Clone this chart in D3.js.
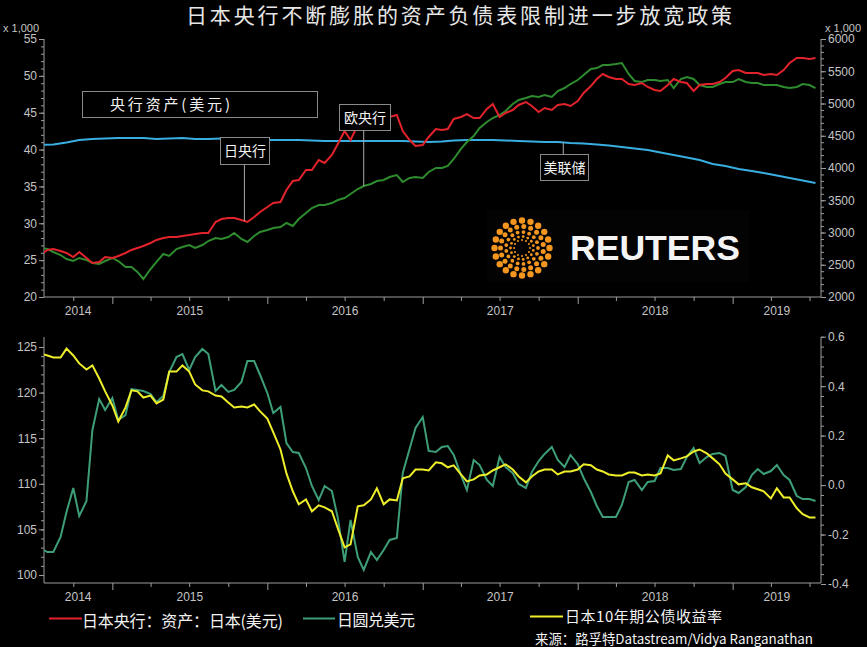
<!DOCTYPE html>
<html><head><meta charset="utf-8">
<script src="https://cdn.jsdelivr.net/npm/d3@7"></script>
<style>body{margin:0;background:#000;}svg{display:block}</style>
</head><body><svg id="c" width="867" height="647"></svg>
<script>
// ---------------- DATA ----------------
// Semi-monthly observations (15th and 1st of each month) from 2014-07-15 to 2019-07-15
const bojAssets = [2651,2729,2744,2713,2682,2620,2698,2605,2527,2543,
2620,2605,2636,2682,2729,2760,2791,2837,2884,2915,
2930,2930,2946,2961,2977,2992,2992,3163,3209,3225,
3225,3194,3163,3240,3318,3395,3457,3473,3659,3798,
3814,3969,3969,4124,4078,4202,4372,4574,4434,4667,
4822,4837,4806,4822,4791,4822,4574,4434,4341,4357,
4481,4605,4589,4605,4760,4791,4837,4775,4775,4915,
4992,4791,4853,4899,4977,5023,4961,4868,4930,4899,
4977,4992,4961,5039,5163,5271,5380,5457,5411,5380,
5380,5302,5287,5318,5256,5209,5194,5287,5380,5333,
5318,5194,5287,5302,5302,5333,5395,5504,5519,5473,
5473,5473,5442,5457,5442,5519,5628,5705,5705,5690,
5705];
const ecbAssets = [2760,2744,2698,2651,2589,2558,2605,2574,2527,2512,
2558,2605,2558,2465,2465,2388,2279,2434,2543,2667,
2636,2744,2775,2806,2760,2806,2868,2915,2899,2930,
2992,2899,2853,2946,3008,3039,3070,3085,3147,3101,
3209,3302,3380,3426,3426,3457,3504,3535,3597,3674,
3721,3752,3798,3814,3860,3891,3783,3845,3860,3845,
3938,4000,4000,4031,4140,4295,4403,4496,4620,4713,
4775,4822,4884,4992,5054,5085,5116,5101,5132,5101,
5194,5240,5302,5364,5442,5535,5550,5597,5597,5612,
5628,5457,5349,5333,5364,5364,5349,5364,5240,5380,
5411,5380,5287,5256,5256,5302,5333,5333,5380,5333,
5318,5318,5287,5287,5287,5256,5240,5256,5302,5287,
5240];
// Monthly observations (15th of each month) from 2014-07-15 to 2019-07-15
const fedAssets = [4357,4364,4395,4434,4450,4457,4465,4465,4465,4450,
4457,4465,4450,4450,4457,4465,4450,4434,4434,4434,
4434,4426,4419,4419,4419,4419,4419,4419,4419,4411,
4403,4411,4426,4434,4434,4434,4426,4419,4411,4403,
4403,4388,4380,4364,4349,4326,4302,4279,4240,4202,
4163,4124,4062,4031,3985,3953,3922,3884,3845,3806,
3767];
// Semi-monthly, same dates as the balance sheets
const usdJpy = [102.96,102.52,102.52,104.17,106.91,109.54,106.47,108.11,115.90,119.30,
118.09,119.41,117.00,117.54,120.39,120.29,120.18,119.85,118.97,119.63,
122.26,123.90,124.23,122.48,123.90,124.78,124.23,120.18,120.83,120.07,
120.29,121.16,123.46,123.46,121.93,119.96,117.76,118.42,114.47,113.49,
113.38,111.73,109.76,108.22,109.76,109.21,106.25,101.43,106.03,101.97,
100.55,102.52,101.64,102.74,103.84,104.06,111.18,113.82,116.12,117.32,
113.60,113.49,114.04,114.14,113.16,110.96,109.32,112.61,112.06,110.42,
109.76,112.94,111.84,111.18,109.98,109.54,111.29,112.50,113.27,114.04,
112.61,111.84,113.16,112.17,110.64,109.10,107.57,106.36,106.36,106.36,
107.68,110.20,110.42,109.32,110.20,110.31,111.73,111.73,111.51,111.62,
112.94,113.93,112.28,112.94,113.27,113.38,113.05,109.32,108.99,109.65,
110.96,111.62,111.07,111.40,112.06,110.96,110.42,108.66,108.33,108.33,
108.11];
const jgb10y = [0.532,0.524,0.516,0.516,0.552,0.524,0.492,0.467,0.484,0.431,
0.379,0.322,0.257,0.314,0.383,0.379,0.354,0.362,0.330,0.346,
0.459,0.459,0.484,0.459,0.407,0.383,0.379,0.362,0.358,0.334,
0.314,0.318,0.314,0.326,0.298,0.269,0.213,0.144,0.047,-0.025,
-0.078,-0.058,-0.106,-0.082,-0.090,-0.106,-0.175,-0.252,-0.240,-0.086,
-0.082,-0.058,-0.013,-0.078,-0.058,-0.062,0.027,0.035,0.063,0.063,
0.059,0.092,0.088,0.072,0.080,0.043,0.015,0.023,0.039,0.043,
0.059,0.072,0.084,0.063,0.035,0.011,0.035,0.055,0.063,0.063,
0.043,0.055,0.055,0.063,0.084,0.080,0.063,0.055,0.043,0.039,
0.039,0.051,0.051,0.039,0.043,0.039,0.047,0.120,0.100,0.108,
0.116,0.136,0.144,0.128,0.108,0.084,0.047,0.023,0.003,0.007,
-0.009,-0.017,-0.025,-0.054,-0.013,-0.050,-0.050,-0.094,-0.118,-0.131,
-0.131];

const yearLabels = ["2014","2015","2016","2017","2018","2019"];
const topLeftTicks = [20,25,30,35,40,45,50,55];
const topRightTicks = [2000,2500,3000,3500,4000,4500,5000,5500,6000];
const botLeftTicks = [100,105,110,115,120,125];
const botRightTicks = [-0.4,-0.2,0.0,0.2,0.4,0.6];

const title = "日本央行不断膨胀的资产负债表限制进一步放宽政策";
const panelLabel = "央行资产(美元)";
const annotations = [
  {text:"日央行", series:"boj", date:"2015-11-08", box:[220,137,49,27], above:true},
  {text:"欧央行", series:"ecb", date:"2016-08-15", box:[339,104,51,26], above:true},
  {text:"美联储", series:"fed", date:"2017-11-28", box:[540,154,48,26], above:false}
];
const legendItems = [
  {label:"日本央行：资产：日本(美元)", color:"#e3232c"},
  {label:"日圆兑美元", color:"#3e9e78"},
  {label:"日本10年期公债收益率", color:"#eeee2a"}
];
const sourceText = "来源：路孚特Datastream/Vidya Ranganathan";

// ---------------- DATES ----------------
const semiDates = [];
{ let d = new Date(2014,6,15); const end = new Date(2019,6,15);
  while (d <= end) { semiDates.push(d);
    d = d.getDate() === 15 ? new Date(d.getFullYear(), d.getMonth()+1, 1) : new Date(d.getFullYear(), d.getMonth(), 15); } }
const monthDates = fedAssets.map((v,i) => new Date(2014, 6+i, 15));
const semi = arr => arr.map((v,i) => ({date: semiDates[i], value: v}));
const series = {
  boj: semi(bojAssets), ecb: semi(ecbAssets),
  fed: fedAssets.map((v,i)=>({date: monthDates[i], value: v})),
  jpy: semi(usdJpy), jgb: semi(jgb10y)
};

// ---------------- CHART ----------------
const svg = d3.select("#c");
svg.append("rect").attr("width",867).attr("height",647).attr("fill","#000");
const NUM = "'Liberation Sans', Arial, sans-serif";
const CJK = "'Noto Sans CJK SC', 'Noto Sans', sans-serif";
const AX = "#9c9c9c", TXT = "#c4c4c4";
const X0 = 44, X1 = 821;
const x = d3.scaleTime().domain([new Date(2014,6,24), new Date(2019,6,28)]).range([X0, X1]);

const T0 = 39, T1 = 297;     // top panel
const B0 = 337, B1 = 583;    // bottom panel
const yL = d3.scaleLinear().domain([20,55]).range([T1,T0]);
const yR = d3.scaleLinear().domain([2000,6000]).range([T1,T0]);
const yBL = d3.scaleLinear().domain([100,125]).range([575,347]);
const yBR = d3.scaleLinear().domain([-0.4,0.6]).range([584,336.7]);

const defs = svg.append("defs");
defs.append("clipPath").attr("id","clipT").append("rect").attr("x",X0).attr("y",T0-5).attr("width",X1-X0).attr("height",T1-T0+5);
defs.append("clipPath").attr("id","clipB").append("rect").attr("x",X0).attr("y",B0-5).attr("width",X1-X0).attr("height",B1-B0+5);

function styleAxis(g){
  g.select(".domain").remove();
  g.selectAll("line").attr("stroke",AX);
  g.selectAll("text").attr("fill",TXT).style("font-family",NUM).style("font-size","12px");
}
function vAxis(scale, pos, minor, major, fmt, right){
  const mk = right ? d3.axisRight : d3.axisLeft;
  svg.append("g").attr("transform",`translate(${pos},0)`)
    .call(mk(scale).tickValues(minor).tickSize(3).tickFormat("")).call(styleAxis);
  svg.append("g").attr("transform",`translate(${pos},0)`)
    .call(mk(scale).tickValues(major).tickSize(5).tickPadding(2).tickFormat(fmt)).call(styleAxis);
}
function xAxis(yPos){
  const qs = d3.timeMonth.every(3).range(x.domain()[0], x.domain()[1]);
  const minorQ = qs.filter(d=>d.getMonth()!==0), years = qs.filter(d=>d.getMonth()===0);
  svg.append("g").attr("transform",`translate(0,${yPos})`)
    .call(d3.axisBottom(x).tickValues(minorQ).tickSize(4).tickFormat("")).call(styleAxis);
  svg.append("g").attr("transform",`translate(0,${yPos})`)
    .call(d3.axisBottom(x).tickValues(years).tickSize(7).tickFormat("")).call(styleAxis);
  yearLabels.forEach(yr => {
    const s = Math.max(x(new Date(+yr,0,1)), X0), e = Math.min(x(new Date(+yr+1,0,1)), X1);
    svg.append("text").attr("x",(s+e)/2).attr("y",yPos+18).attr("text-anchor","middle")
      .attr("fill",TXT).style("font-family",NUM).style("font-size","12px").text(yr);
  });
  svg.append("line").attr("x1",X0).attr("x2",X1).attr("y1",yPos).attr("y2",yPos).attr("stroke",AX);
}

// Top panel axes
vAxis(yL, X0, d3.range(20,56,1), topLeftTicks, d=>d, false);
vAxis(yR, X1, d3.range(2000,6001,100), topRightTicks, d=>d, true);
svg.append("line").attr("x1",X0).attr("x2",X0).attr("y1",T0).attr("y2",T1).attr("stroke",AX);
svg.append("line").attr("x1",X1).attr("x2",X1).attr("y1",T0).attr("y2",T1).attr("stroke",AX);
xAxis(T1);
svg.append("text").attr("x",3).attr("y",32).attr("fill",TXT).style("font-family",NUM).style("font-size","11px").text("x 1,000");
svg.append("text").attr("x",825).attr("y",32).attr("fill",TXT).style("font-family",NUM).style("font-size","11px").text("x 1,000");

// Bottom panel axes
vAxis(yBL, X0, d3.range(100,126,1), botLeftTicks, d=>d, false);
vAxis(yBR, X1, d3.range(-0.4,0.601,0.04), botRightTicks, d=>d.toFixed(1), true);
svg.append("line").attr("x1",X0).attr("x2",X0).attr("y1",B0).attr("y2",B1).attr("stroke",AX);
svg.append("line").attr("x1",X1).attr("x2",X1).attr("y1",B0).attr("y2",B1).attr("stroke",AX);
xAxis(B1);

// REUTERS logo (decoration)
const logo = svg.append("g");
logo.append("rect").attr("x",487).attr("y",210).attr("width",262).attr("height",72).attr("fill","#030303");
const lc = [522, 248];
const rings = [{r:27.5,n:20,s:3.2},{r:21.5,n:19,s:2.5},{r:16,n:17,s:1.9},{r:11.5,n:15,s:1.4},{r:8,n:12,s:1.0}];
rings.forEach((rg,k) => {
  for (let i=0;i<rg.n;i++){
    const a = (i + (k%2)*0.5)/rg.n*2*Math.PI;
    logo.append("circle").attr("cx",lc[0]+rg.r*Math.cos(a)).attr("cy",lc[1]+rg.r*Math.sin(a)).attr("r",rg.s).attr("fill","#f3961f");
  }
});
logo.append("text").attr("x",570).attr("y",260).attr("textLength",170).attr("lengthAdjust","spacingAndGlyphs")
  .attr("fill","#f4f4f4").style("font-family",NUM).style("font-size","35px").style("font-weight","bold").text("REUTERS");

// Lines
const lineT = sc => d3.line().x(d=>x(d.date)).y(d=>sc(d.value));
const gT = svg.append("g").attr("clip-path","url(#clipT)");
gT.append("path").datum(series.fed).attr("d",lineT(yR)).attr("fill","none").attr("stroke","#39aee0").attr("stroke-width",2);
gT.append("path").datum(series.ecb).attr("d",lineT(yR)).attr("fill","none").attr("stroke","#2e8b2e").attr("stroke-width",2);
gT.append("path").datum(series.boj).attr("d",lineT(yR)).attr("fill","none").attr("stroke","#e3232c").attr("stroke-width",2);
const gB = svg.append("g").attr("clip-path","url(#clipB)");
gB.append("path").datum(series.jpy).attr("d",lineT(yBL)).attr("fill","none").attr("stroke","#3e9e78").attr("stroke-width",2);
gB.append("path").datum(series.jgb).attr("d",lineT(yBR)).attr("fill","none").attr("stroke","#eeee2a").attr("stroke-width",2);

// Panel label box
svg.append("rect").attr("x",82.5).attr("y",91.5).attr("width",235).attr("height",26).attr("fill","#000").attr("stroke","#8a8a8a");
svg.append("text").attr("x",110).attr("y",110).attr("textLength",120).attr("lengthAdjust","spacing")
  .attr("fill","#f0f0f0").style("font-family",CJK).style("font-size","15px").text(panelLabel);

// Annotations
const parse = d3.timeParse("%Y-%m-%d");
annotations.forEach(a => {
  const s = series[a.series], dt = parse(a.date);
  const i = d3.bisector(d=>d.date).left(s, dt);
  const p0 = s[Math.max(i-1,0)], p1 = s[Math.min(i,s.length-1)];
  const t = p1.date - p0.date ? (dt - p0.date)/(p1.date - p0.date) : 0;
  const v = p0.value + t*(p1.value - p0.value);
  const ax = x(dt), ay = yR(v);
  const [bx,by,bw,bh] = a.box;
  svg.append("line").attr("x1",ax).attr("x2",ax).attr("y1",a.above? by+bh : by).attr("y2",ay).attr("stroke","#aaaaaa").attr("stroke-width",1);
  svg.append("rect").attr("x",bx+0.5).attr("y",by+0.5).attr("width",bw).attr("height",bh).attr("fill","#000").attr("stroke","#8a8a8a");
  svg.append("text").attr("x",bx+bw/2+0.5).attr("y",by+bh/2+5.5).attr("text-anchor","middle")
    .attr("fill","#f4f4f4").style("font-family",CJK).style("font-size","14px").text(a.text);
});

// Title
svg.append("text").attr("x",186).attr("y",23).attr("textLength",546).attr("lengthAdjust","spacing")
  .attr("fill","#e6e6e6").style("font-family",CJK).style("font-size","21px").text(title);

// Legend
const leg = [
  {x1:49,x2:82,y:618.5,tx:82,tl:201,ty:627,fs:16},
  {x1:303,x2:335,y:618.5,tx:337,tl:78,ty:626,fs:16},
  {x1:530,x2:563,y:616.5,tx:565,tl:157,ty:622,fs:15}
];
legendItems.forEach((it,i) => {
  const L = leg[i];
  svg.append("line").attr("x1",L.x1).attr("x2",L.x2).attr("y1",L.y).attr("y2",L.y).attr("stroke",it.color).attr("stroke-width",2);
  svg.append("text").attr("x",L.tx).attr("y",L.ty).attr("textLength",L.tl).attr("lengthAdjust","spacing")
    .attr("fill","#f2f2f2").style("font-family",CJK).style("font-size",L.fs+"px").text(it.label);
});
svg.append("text").attr("x",535).attr("y",643.5).attr("textLength",278).attr("lengthAdjust","spacingAndGlyphs")
  .attr("fill","#f2f2f2").style("font-family",CJK).style("font-size","13.5px").text(sourceText);
</script></body></html>
